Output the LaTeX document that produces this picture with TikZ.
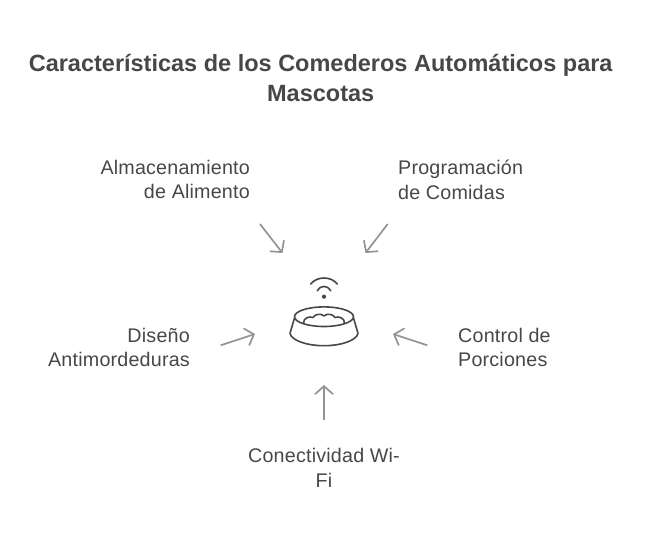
\documentclass[tikz,border=0pt]{standalone}
\usepackage{fontspec}
\setmainfont{Liberation Sans}
\usetikzlibrary{arrows.meta}
\begin{document}
\tikzset{
    titletext/.style={font=\fontsize{23.5}{30}\selectfont\bfseries, text=black!72, align=center, inner sep=0pt},
    labeltext/.style={font=\fontsize{19.7}{24.5}\selectfont\addfontfeatures{LetterSpace=1}, text=black!72, inner sep=0pt},
    pointer/.style={->, >={Straight Barb[length=8pt,width=18pt]}, line width=1.7pt, color=black!42},
    bowl/.style={line width=1.6pt, color=black!72, line cap=round, line join=round},
}
\begin{tikzpicture}[x=1pt,y=-1pt]
    \useasboundingbox (0,0) rectangle (648,540);

    \node [titletext] (title) at (320.7,78) {Características de los Comederos Automáticos para\\Mascotas};

    \node [labeltext, align=right, anchor=east] (almacen) at (250,179.7) {Almacenamiento\\de Alimento};
    \node [labeltext, align=left, anchor=west] (program) at (398,179.7) {Programación\\de Comidas};
    \node [labeltext, align=right, anchor=east] (diseno) at (190,347.7) {Diseño\\Antimordeduras};
    \node [labeltext, align=left, anchor=west] (control) at (458,347.7) {Control de\\Porciones};
    \node [labeltext, align=center] (wifi) at (324,467.7) {Conectividad Wi-\\Fi};

    \coordinate (almacenS) at (260,224);
    \coordinate (almacenE) at (282.5,253);
    \coordinate (programS) at (387.7,224);
    \coordinate (programE) at (365.5,253);
    \coordinate (disenoS) at (220.7,345.3);
    \coordinate (disenoE) at (255,334);
    \coordinate (controlS) at (427.3,345.3);
    \coordinate (controlE) at (393,334);
    \coordinate (wifiS) at (324,420);
    \coordinate (wifiE) at (324,385);

    \foreach \n in {almacen,program,diseno,control,wifi}{%
        \draw [pointer] (\n S) -- (\n E);}

    % bowl
    \begin{scope}[bowl]
        \draw (324,316.7) ellipse (29.5 and 9.8);
        \draw (294.5,318) -- (290,333.3) .. controls (291,340) and (306,345.7) .. (324,345.7)
              .. controls (342,345.7) and (357,340) .. (358,333.3) -- (353.5,318);
        \draw (303.5,323) .. controls (303.5,318) and (309,316) .. (313,317.5)
              .. controls (315,314) and (321,313) .. (324,316)
              .. controls (327,313) and (333,314) .. (335,317.5)
              .. controls (339,316) and (344.5,318) .. (344.5,323);
        % signal
        \draw (310.7,284) .. controls (317,276) and (331,276) .. (337.3,284);
        \draw (317.3,290.7) .. controls (320,285) and (328,285) .. (330.7,290.7);
        \fill (324,296.7) circle (2.1);
    \end{scope}
\end{tikzpicture}
\end{document}
